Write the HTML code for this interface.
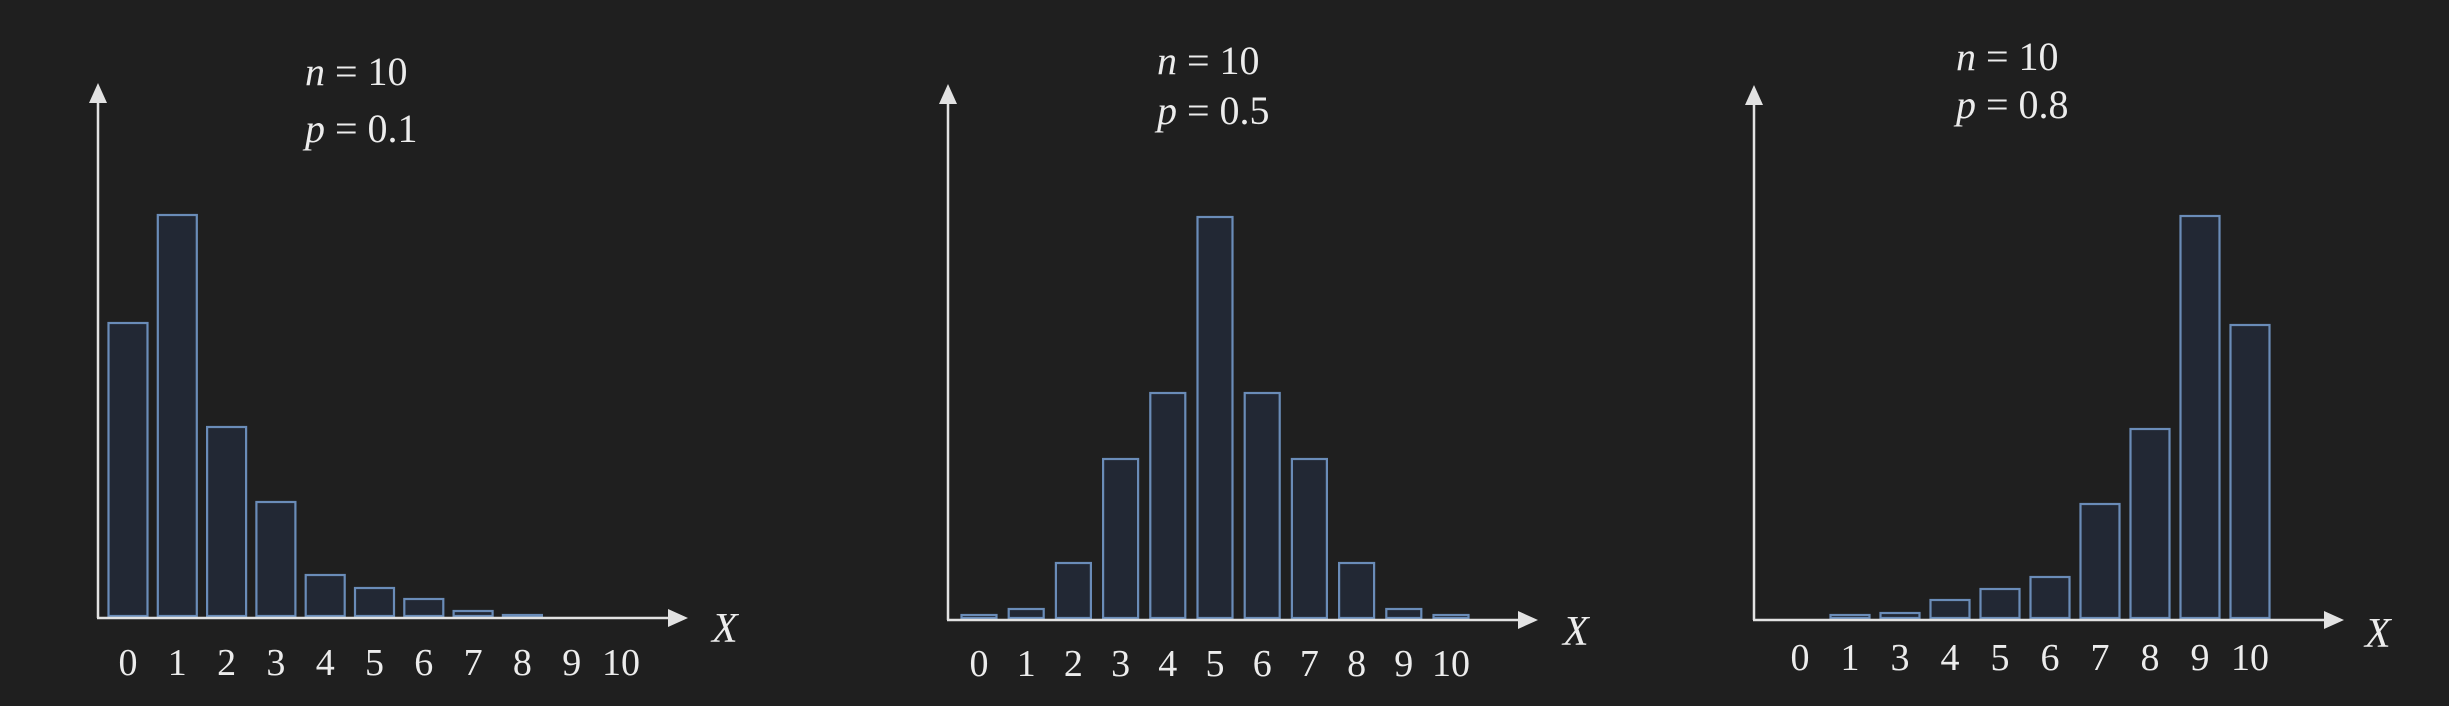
<!DOCTYPE html>
<html><head><meta charset="utf-8"><style>
html,body{margin:0;padding:0;background:#1f1f1f;}
svg{display:block;}
text{font-family:"Liberation Serif",serif;fill:#ececec;}
</style></head><body>
<svg id="chart" width="2449" height="706" viewBox="0 0 2449 706" xmlns="http://www.w3.org/2000/svg">
<rect width="2449" height="706" fill="#1f1f1f"/>
</svg>
<script>
// Panel 1: n=10, p=0.1
const labels1 = ["0","1","2","3","4","5","6","7","8","9","10"];
const values1 = [0.293,0.401,0.189,0.114,0.041,0.028,0.017,0.005,0.001,0,0];
// Panel 2: n=10, p=0.5
const labels2 = ["0","1","2","3","4","5","6","7","8","9","10"];
const values2 = [0.003,0.009,0.055,0.159,0.225,0.401,0.225,0.159,0.055,0.009,0.003];
// Panel 3: n=10, p=0.8
const labels3 = ["0","1","3","4","5","6","7","8","9","10"];
const values3 = [0,0.003,0.005,0.018,0.029,0.041,0.114,0.189,0.402,0.293];
const titles = [["10","0.1"],["10","0.5"],["10","0.8"]];

const NS = "http://www.w3.org/2000/svg";
const svg = document.getElementById("chart");
function mk(tag, attrs, parent){
  const e = document.createElementNS(NS, tag);
  for (const k in attrs) e.setAttribute(k, attrs[k]);
  (parent||svg).appendChild(e);
  return e;
}
const panels = [
  {labels:labels1, values:values1, axX:98, top:83, base:618, tip:688, x0:128, step:49.3, bw:39, title:titles[0], tx:305, ty:85, tgap:57, labY:675, xl:[712,642]},
  {labels:labels2, values:values2, axX:948, top:84, base:620, tip:1538, x0:979, step:47.2, bw:35, title:titles[1], tx:1157, ty:74, tgap:50, labY:676, xl:[1563,645]},
  {labels:labels3, values:values3, axX:1754, top:85, base:620, tip:2344, x0:1800, step:50, bw:39, title:titles[2], tx:1956, ty:70, tgap:48, labY:670, xl:[2365,647]}
];
const pxPerUnit = 1000;
panels.forEach((p, pi) => {
  const g = mk("g", {});
  
  
  const xs = i => p.x0 + i * p.step;
  const ys = v => p.base - 2 - v * pxPerUnit;
  p.values.forEach((v, i) => {
    if (v <= 0) return;
    const y = ys(v);
    const r = mk("rect", {x: xs(i) - p.bw/2, y: y, width: p.bw, height: Math.max(p.base - 2 - y, 2), fill: "#222834", stroke: "#6a8cb8", "stroke-width": 2.2}, g);
    
    
  });
  const ya = mk("line", {x1:p.axX, y1:p.base, x2:p.axX, y2:p.top+18, stroke:"#e2e2e2", "stroke-width":2.5}, g);
  
  
  const yh = mk("polygon", {points:`${p.axX-9},${p.top+20} ${p.axX+9},${p.top+20} ${p.axX},${p.top}`, fill:"#e2e2e2"}, g);
  
  
  const xa = mk("line", {x1:p.axX-1, y1:p.base, x2:p.tip-18, y2:p.base, stroke:"#e2e2e2", "stroke-width":2.5}, g);
  
  
  const xh = mk("polygon", {points:`${p.tip-20},${p.base-9} ${p.tip-20},${p.base+9} ${p.tip},${p.base}`, fill:"#e2e2e2"}, g);
  
  
  const xl = mk("text", {x:p.xl[0], y:p.xl[1], "font-size":42, "font-style":"italic"}, g);
  xl.textContent = "X";
  
  
  p.labels.forEach((l, i) => {
    const t = mk("text", {x: xs(i), y: p.labY, "font-size":38, "text-anchor":"middle"}, g);
    t.textContent = l;
    
    
  });
  const t1 = mk("text", {x:p.tx, y:p.ty, "font-size":40, "xml:space":"preserve"}, g);
  t1.innerHTML = '<tspan font-style="italic">n</tspan>  =  ' + p.title[0];
  
  
  const t2 = mk("text", {x:p.tx, y:p.ty + p.tgap, "font-size":40, "xml:space":"preserve"}, g);
  t2.innerHTML = '<tspan font-style="italic">p</tspan>  =  ' + p.title[1];
  
  
});
</script>
</body></html>
